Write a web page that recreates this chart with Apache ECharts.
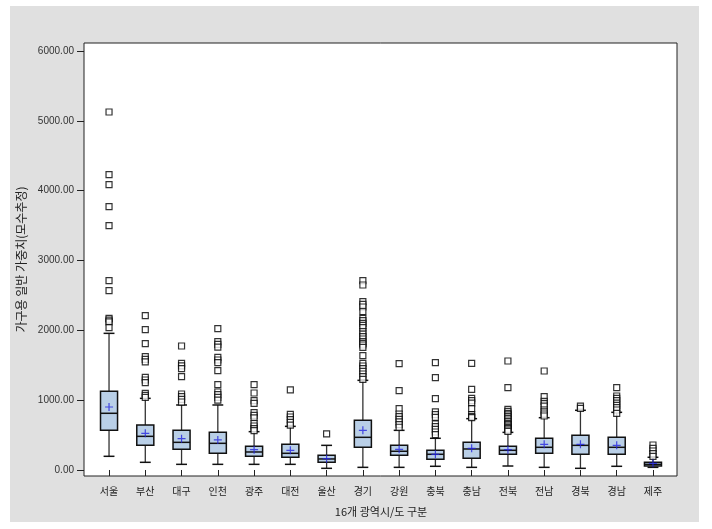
<!DOCTYPE html>
<html>
<head>
<meta charset="utf-8">
<script src="https://cdn.jsdelivr.net/npm/echarts@6/dist/echarts.min.js"></script>
<style>
html,body{margin:0;padding:0;background:#fff;}
#chart{width:712px;height:529px;}
</style>
</head>
<body>
<div id="chart"></div>
<script>
// ---- data ----
var categories = ['서울','부산','대구','인천','광주','대전','울산','경기','강원','충북','충남','전북','전남','경북','경남','제주'];
// [lower whisker, Q1, median, Q3, upper whisker]
var boxStats = [
  [196, 568, 812, 1127, 1957],
  [110, 353, 482, 644, 1026],
  [81, 296, 396, 568, 931],
  [81, 239, 382, 539, 931],
  [81, 196, 258, 339, 549],
  [81, 182, 239, 368, 625],
  [24, 110, 158, 210, 353],
  [38, 325, 468, 711, 1284],
  [38, 210, 268, 353, 568],
  [53, 153, 225, 282, 454],
  [38, 167, 301, 396, 735],
  [57, 225, 282, 339, 539],
  [38, 239, 325, 454, 749],
  [24, 225, 353, 497, 855],
  [53, 225, 325, 468, 826],
  [38, 57, 81, 110, 182]
];
var means = [902, 525, 449, 430, 291, 282, 162, 568, 296, 225, 311, 291, 368, 368, 353, 95];
var outliers = [
  [5127, 4229, 4086, 3771, 3499, 2711, 2568, 2170, 2145, 2120, 2038],
  [2210, 2010, 1809, 1623, 1585, 1547, 1327, 1289, 1250, 1098, 1070, 1041],
  [1776, 1528, 1490, 1451, 1337, 1088, 1050, 1012, 974],
  [2024, 1838, 1800, 1761, 1614, 1575, 1537, 1422, 1222, 1117, 1079, 1041, 1002],
  [1222, 1103, 993, 955, 821, 783, 745, 668, 630, 592, 563],
  [1146, 797, 759, 721, 683, 644],
  [516],
  [2711, 2649, 2410, 2372, 2334, 2267, 2172, 2138, 2101, 2072, 2038, 1981, 1947, 1909, 1876, 1838, 1814, 1790, 1757, 1637, 1528, 1489, 1451, 1413, 1375, 1337, 1299],
  [1522, 1136, 878, 802, 764, 726, 688, 650, 612],
  [1537, 1322, 1021, 831, 793, 755, 659, 621, 583, 544, 506],
  [1528, 1155, 1026, 993, 959, 878, 793, 764, 750],
  [1561, 1179, 869, 840, 812, 788, 764, 740, 716, 692, 668, 649, 630, 611, 592, 573, 554],
  [1418, 1050, 984, 950, 916, 859, 831, 802, 773],
  [916, 883],
  [1179, 1060, 1026, 993, 959, 926, 893, 859, 812],
  [358, 311, 272, 234, 196]
];
var yTicks = [0, 1000, 2000, 3000, 4000, 5000, 6000];
var yTitle = '가구용 일반 가중치(모수추정)';
var xTitle = '16개 광역시/도 구분';

// ---- build ----
var boxData = boxStats.map(function (s, i) { return [i].concat(s); });
var meanData = means.map(function (m, i) { return [i, m]; });
var outData = [];
outliers.forEach(function (arr, i) { arr.forEach(function (v) { outData.push([i, v]); }); });

var Y_MIN = -86, Y_MAX = 6115;
var fontK = '"Noto Sans CJK KR", "Liberation Sans", sans-serif';
var fontN = '"Liberation Sans", "DejaVu Sans", sans-serif';

var chart = echarts.init(document.getElementById('chart'), null, {renderer: 'canvas'});
chart.setOption({
  animation: false,
  backgroundColor: '#fff',
  graphic: [{
    type: 'rect', z: -10, silent: true,
    shape: {x: 10, y: 6, width: 689, height: 516},
    style: {fill: '#e0e0e0'}
  }],
  grid: [
    {left: 84, top: 43, width: 593, height: 433, show: true, backgroundColor: '#fff', borderColor: '#222', borderWidth: 1, z: 0},
    {left: 90.9, top: 43, width: 580.2, height: 433, show: false}
  ],
  xAxis: [
    {gridIndex: 0, type: 'value', min: 0, max: 1, show: false},
    {gridIndex: 1, type: 'category', data: categories, boundaryGap: true,
      axisLine: {show: false},
      axisTick: {show: true, alignWithLabel: true, length: 6, lineStyle: {color: '#222', width: 1}},
      axisLabel: {margin: 10, fontSize: 10, color: '#222', fontFamily: fontK},
      splitLine: {show: false},
      name: xTitle, nameLocation: 'middle', nameGap: 30,
      nameTextStyle: {fontSize: 11, color: '#222', fontFamily: fontK}
    }
  ],
  yAxis: [
    {gridIndex: 0, type: 'value', min: Y_MIN, max: Y_MAX,
      axisLine: {show: false},
      axisTick: {show: true, customValues: yTicks, length: 7, lineStyle: {color: '#222', width: 1}},
      axisLabel: {customValues: yTicks, margin: 10, fontSize: 10, color: '#333', fontFamily: fontN,
        formatter: function (v) { return v.toFixed(2); }},
      splitLine: {show: false},
      name: yTitle, nameLocation: 'middle', nameGap: 56, nameRotate: 90,
      nameTextStyle: {fontSize: 12, color: '#222', fontFamily: fontK}
    },
    {gridIndex: 1, type: 'value', min: Y_MIN, max: Y_MAX, show: false, splitLine: {show: false}}
  ],
  series: [
    {
      type: 'custom', xAxisIndex: 1, yAxisIndex: 1, z: 3,
      data: boxData,
      encode: {x: 0, y: [1, 2, 3, 4, 5]},
      renderItem: function (params, api) {
        var i = api.value(0);
        var pLo = api.coord([i, api.value(1)]);
        var pQ1 = api.coord([i, api.value(2)]);
        var pMd = api.coord([i, api.value(3)]);
        var pQ3 = api.coord([i, api.value(4)]);
        var pHi = api.coord([i, api.value(5)]);
        var band = api.size([1, 0])[0];
        var bw = band * 0.47, cw = band * 0.3;
        var x = pMd[0];
        var ls = {stroke: '#333', lineWidth: 1.3};
        return {
          type: 'group',
          children: [
            {type: 'line', shape: {x1: x, y1: pHi[1], x2: x, y2: pQ3[1]}, style: ls},
            {type: 'line', shape: {x1: x, y1: pQ1[1], x2: x, y2: pLo[1]}, style: ls},
            {type: 'line', shape: {x1: x - cw / 2, y1: pHi[1], x2: x + cw / 2, y2: pHi[1]}, style: {stroke: '#111', lineWidth: 1.5}},
            {type: 'line', shape: {x1: x - cw / 2, y1: pLo[1], x2: x + cw / 2, y2: pLo[1]}, style: {stroke: '#111', lineWidth: 1.5}},
            {type: 'rect', shape: {x: x - bw / 2, y: pQ3[1], width: bw, height: pQ1[1] - pQ3[1]},
              style: {fill: '#b9cfe7', stroke: '#111', lineWidth: 1.5}},
            {type: 'line', shape: {x1: x - bw / 2, y1: pMd[1], x2: x + bw / 2, y2: pMd[1]}, style: {stroke: '#111', lineWidth: 1.5}}
          ]
        };
      }
    },
    {
      type: 'scatter', xAxisIndex: 1, yAxisIndex: 1, z: 4,
      data: outData,
      symbol: 'rect', symbolSize: 6,
      itemStyle: {color: '#fff', borderColor: '#000', borderWidth: 1.2}
    },
    {
      type: 'scatter', xAxisIndex: 1, yAxisIndex: 1, z: 5,
      data: meanData,
      symbol: 'path://M0,5L10,5M5,0L5,10', symbolSize: 8,
      itemStyle: {color: 'rgba(0,0,0,0)', borderColor: '#2424e0', borderWidth: 1.2}
    }
  ]
});
</script>
</body>
</html>
